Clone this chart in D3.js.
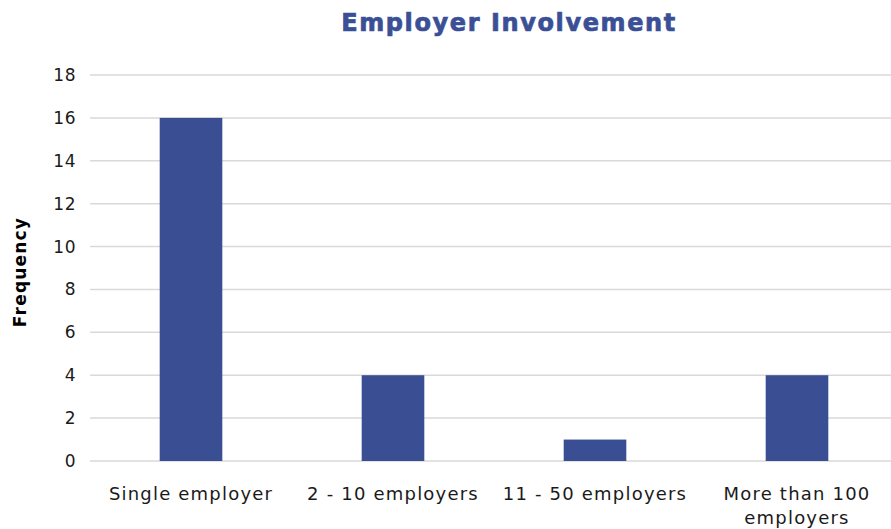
<!DOCTYPE html>
<html>
<head>
<meta charset="utf-8">
<script src="https://cdn.jsdelivr.net/npm/d3@7/dist/d3.min.js"></script>
<style>
  html, body { margin: 0; padding: 0; background: #fff; }
  svg { display: block; }
</style>
</head>
<body>
<svg id="chart" width="891" height="529"></svg>
<script>
// Employer involvement counts
const categories = ["Single employer", "2 - 10 employers", "11 - 50 employers", "More than 100 employers"];
const frequency = [16, 4, 1, 4];
const yTicks = [0, 2, 4, 6, 8, 10, 12, 14, 16, 18];

const W = 891, H = 529;
const margin = { left: 90, right: -7, top: 75, bottom: 68 };
const barColor = "#3A4F93";
const font = "'DejaVu Sans', sans-serif";

const svg = d3.select("#chart");

const x = d3.scaleBand()
  .domain(categories)
  .range([margin.left, W - margin.right])
  .paddingInner(0.69)
  .paddingOuter(0.345);

const y = d3.scaleLinear()
  .domain([0, 18])
  .range([H - margin.bottom, margin.top]);

// horizontal gridlines
svg.append("g")
  .selectAll("line")
  .data(yTicks)
  .join("line")
  .attr("x1", margin.left)
  .attr("x2", W)
  .attr("y1", d => y(d))
  .attr("y2", d => y(d))
  .attr("stroke", "#d9d9d9")
  .attr("stroke-width", 1.5);

// y axis labels
const yAxis = d3.axisLeft(y).tickValues(yTicks).tickSize(0).tickPadding(0);
svg.append("g")
  .attr("transform", `translate(${margin.left - 14},0)`)
  .call(yAxis)
  .call(g => g.select(".domain").remove())
  .call(g => g.selectAll("text")
    .attr("font-family", font)
    .attr("font-size", 17)
    .attr("letter-spacing", 0.5)
    .attr("fill", "#1a1a1a"));

// bars
svg.append("g")
  .selectAll("rect")
  .data(categories)
  .join("rect")
  .attr("x", d => x(d))
  .attr("width", x.bandwidth())
  .attr("y", (d, i) => y(frequency[i]))
  .attr("height", (d, i) => y(0) - y(frequency[i]))
  .attr("fill", barColor);

// category labels (wrapped when needed)
const wrapped = {
  "More than 100 employers": ["More than 100", "employers"]
};
const xAxis = svg.append("g");
categories.forEach(c => {
  const lines = wrapped[c] || [c];
  const cx = x(c) + x.bandwidth() / 2;
  const t = xAxis.append("text")
    .attr("x", cx)
    .attr("y", 500)
    .attr("text-anchor", "middle")
    .attr("font-family", font)
    .attr("font-size", 18)
    .attr("letter-spacing", 1.2)
    .attr("fill", "#1a1a1a");
  lines.forEach((l, i) => {
    t.append("tspan")
      .attr("x", cx)
      .attr("dy", i === 0 ? 0 : 24)
      .text(l);
  });
});

// title
svg.append("text")
  .attr("x", 509)
  .attr("y", 31)
  .attr("text-anchor", "middle")
  .attr("font-family", font)
  .attr("font-weight", "bold")
  .attr("font-size", 24)
  .attr("letter-spacing", 1.6)
  .attr("fill", "#3A4F96")
  .attr("stroke", "#3A4F96")
  .attr("stroke-width", 0.7)
  .text("Employer Involvement");

// y axis title
svg.append("text")
  .attr("transform", `translate(26, ${(y(0) + y(18)) / 2 + 4}) rotate(-90)`)
  .attr("text-anchor", "middle")
  .attr("font-family", font)
  .attr("font-weight", "bold")
  .attr("font-size", 17)
  .attr("letter-spacing", 1.2)
  .attr("fill", "#000")
  .text("Frequency");
</script>
</body>
</html>
